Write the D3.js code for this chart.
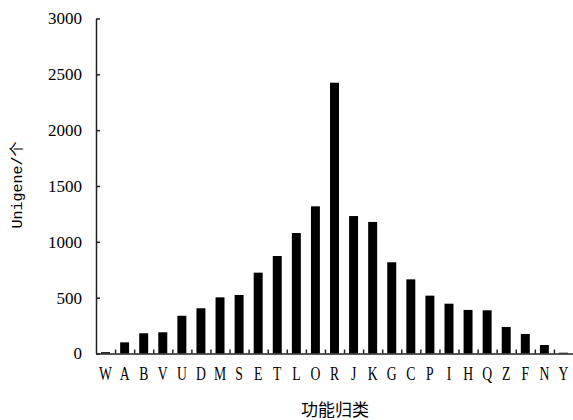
<!DOCTYPE html>
<html>
<head>
<meta charset="utf-8">
<script src="https://cdn.jsdelivr.net/npm/d3@7"></script>
<style>
    body { margin: 0; background: #fff; }
    svg text { fill: #000; }
    .tick line, .domain { stroke: #222; stroke-width: 1.5; }
</style>
</head>
<body>
<svg width="573" height="420"></svg>
<script>
// categories and counts
var categories = ["W", "A", "B", "V", "U", "D", "M", "S", "E", "T", "L", "O", "R",
    "J", "K", "G", "C", "P", "I", "H", "Q", "Z", "F", "N", "Y"];
var counts = [12, 100, 181, 190, 338, 405, 503, 524, 724, 873, 1079, 1318, 2425,
    1231, 1178, 817, 664, 518, 446, 390, 387, 237, 175, 76, 7];
var yTicks = [0, 500, 1000, 1500, 2000, 2500, 3000];
var yTitle = "Unigene/个";
var xTitle = "功能归类";

var svg = d3.select("svg");

var plotLeft = 96, plotRight = 573, plotTop = 18.5, plotBottom = 353.5;

var x = d3.scaleBand()
    .domain(categories)
    .range([plotLeft, plotRight])
    .padding(0);

// linear copy of the band positions, for the little ticks between bars
var xEdge = d3.scaleLinear()
    .domain([0, categories.length])
    .range([plotLeft, plotRight]);

var y = d3.scaleLinear()
    .domain([0, 3000])
    .range([plotBottom, plotTop]);

var barW = x.bandwidth() * 0.47;

svg.append("g")
    .selectAll("rect")
    .data(counts)
    .enter()
    .append("rect")
    .attr("x", (d, i) => x(categories[i]) + (x.bandwidth() - barW) / 2)
    .attr("y", (d) => y(d))
    .attr("width", barW)
    .attr("height", (d) => y(0) - y(d))
    .attr("fill", "#000");

// y axis
var yAxis = svg.append("g")
    .attr("transform", `translate(${plotLeft},0)`)
    .call(d3.axisLeft(y)
        .tickValues(yTicks)
        .tickSize(-4)
        .tickSizeOuter(0)
        .tickFormat(d3.format("d"))
        .tickPadding(14));
yAxis.selectAll("text")
    .style("font-family", "'Liberation Serif', serif")
    .style("font-size", "17px");

// x axis: ticks at band edges
svg.append("g")
    .attr("transform", `translate(0,${plotBottom})`)
    .call(d3.axisBottom(xEdge)
        .tickValues(d3.range(1, categories.length))
        .tickSize(-4)
        .tickSizeOuter(0)
        .tickFormat(""));

// x labels
svg.append("g")
    .selectAll("text")
    .data(categories)
    .enter()
    .append("text")
    .attr("transform", (d) => `translate(${x(d) + x.bandwidth() / 2},380) scale(0.72,1)`)
    .attr("text-anchor", "middle")
    .style("font-family", "'Liberation Serif', serif")
    .style("font-size", "19px")
    .text((d) => d);

svg.append("text")
    .attr("transform", "translate(22,185) rotate(-90)")
    .attr("text-anchor", "middle")
    .style("font-family", "'Liberation Mono', 'Noto Sans CJK SC', monospace")
    .style("font-size", "15px")
    .text(yTitle);

svg.append("text")
    .attr("x", 335)
    .attr("y", 416)
    .attr("text-anchor", "middle")
    .style("font-family", "'Noto Sans CJK SC', sans-serif")
    .style("font-size", "17px")
    .text(xTitle);
</script>
</body>
</html>
